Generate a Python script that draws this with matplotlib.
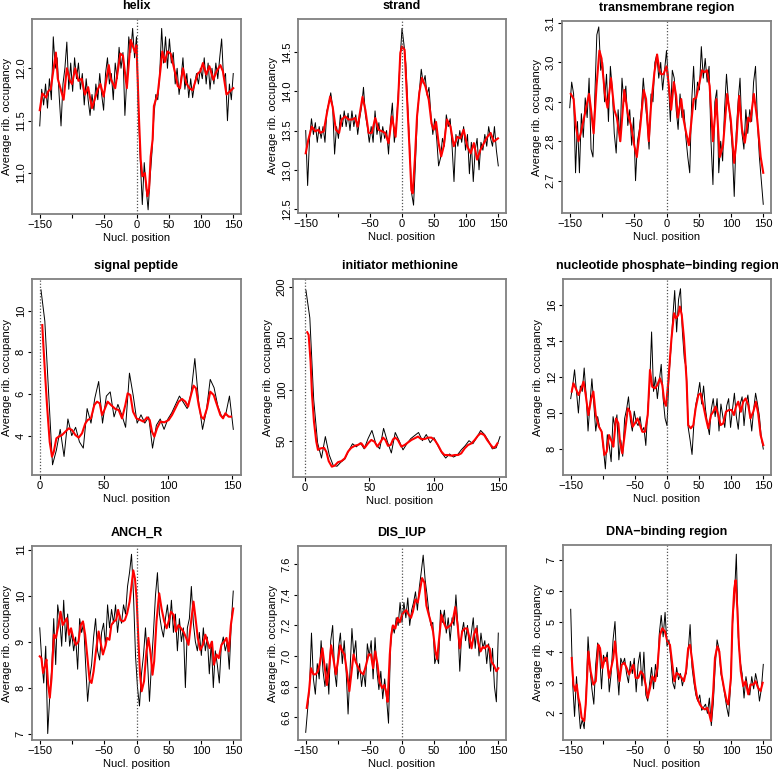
import matplotlib
matplotlib.use("Agg")
import matplotlib.pyplot as plt
import numpy as np

plt.rcParams["font.family"] = ["Liberation Sans", "DejaVu Sans"]

# ---- helix ----
helix_black = [11.45, 11.80, 11.65, 11.85, 11.62, 11.90, 11.70, 12.30, 12.00, 12.10, 11.75, 11.45, 11.85,
               12.00, 12.25, 11.80, 12.05, 11.78, 12.10, 11.90, 12.05, 11.80, 11.95, 11.65, 11.90, 11.70,
               11.55, 11.75, 11.60, 11.85, 11.70, 11.95, 11.75, 11.60, 11.95, 12.10, 11.85, 11.95, 11.70,
               12.05, 11.90, 12.20, 12.00, 12.15, 11.55, 11.90, 12.30, 12.15, 12.38, 12.10, 12.30, 11.60,
               11.10, 10.70, 11.10, 10.85, 10.65, 10.95, 11.20, 11.55, 11.75, 11.70, 11.95, 12.38, 12.05,
               12.30, 12.00, 12.28, 12.05, 12.15, 11.85, 12.00, 11.75, 11.90, 12.10, 11.80, 11.95, 11.72,
               11.90, 11.72, 11.85, 11.95, 11.85, 12.00, 11.90, 12.10, 11.85, 12.05, 11.80, 12.00, 11.85,
               12.05, 11.90, 12.10, 12.28, 11.90, 11.95, 11.50, 11.85, 11.70, 11.95]
helix_red_x = [-150, -146, -140, -137, -133, -125, -122, -113, -108, -103, -100, -95, -90, -85, -80, -75,
               -69, -65, -60, -56, -51, -43, -40, -33, -25, -21, -15, -9, -5, -2, 0, 4, 6.5, 9, 13, 17,
               19.5, 22, 25, 27, 33, 37, 40, 44, 48, 53, 59, 64, 67.5, 72, 77, 82, 87, 95, 99, 103, 108,
               113, 119, 124, 130, 134, 139.5, 145, 150]
helix_red_y = [11.60, 11.76, 11.72, 11.78, 11.80, 12.15, 11.90, 11.70, 12.00, 11.88, 11.85, 12.00, 11.88,
               11.90, 11.75, 11.82, 11.62, 11.70, 11.80, 11.85, 11.73, 12.03, 11.90, 11.81, 12.14, 12.12,
               11.81, 12.27, 12.20, 12.15, 12.22, 11.50, 11.13, 10.97, 11.00, 10.78, 10.85, 11.16, 11.32,
               11.64, 11.76, 11.98, 12.16, 12.06, 12.16, 12.14, 11.98, 11.83, 11.81, 12.00, 11.86, 11.81,
               11.79, 11.95, 11.97, 12.05, 11.94, 12.02, 11.89, 11.97, 12.03, 11.97, 11.75, 11.78, 11.81]

# ---- strand ----
strand_black = [13.50, 12.80, 13.40, 13.65, 13.45, 13.60, 13.35, 13.55, 13.40, 13.55, 13.35, 13.75, 13.85,
                13.98, 13.80, 13.20, 13.55, 13.40, 13.70, 13.55, 13.75, 13.55, 13.72, 13.50, 13.75, 13.55,
                13.70, 13.45, 13.65, 13.80, 14.05, 13.70, 13.55, 13.35, 13.55, 13.35, 13.75, 13.45, 13.60,
                13.35, 13.55, 13.40, 13.50, 13.20, 13.60, 13.85, 13.35, 13.55, 13.95, 14.40, 14.80, 14.60,
                14.35, 13.80, 13.30, 12.70, 12.55, 13.10, 13.70, 14.00, 14.28, 14.10, 14.20, 13.95, 14.05,
                13.70, 13.45, 13.65, 13.40, 13.05, 13.15, 13.40, 13.30, 13.70, 13.55, 13.65, 13.30, 12.85,
                13.45, 13.30, 13.50, 13.35, 13.55, 13.25, 13.45, 12.95, 13.35, 12.85, 13.25, 13.40, 13.00,
                13.35, 13.25, 13.45, 13.30, 13.55, 13.40, 13.30, 13.55, 13.25, 13.05]
strand_red_x = [-150, -146, -140.6, -135, -130, -127.6, -122, -117, -112, -108, -103, -98, -94, -88.5, -83,
                -78, -73, -69, -61.5, -57, -52, -47, -41.7, -36.5, -31, -26, -21, -15.6, -10, -6, -2.6, 0,
                4, 8, 11.5, 14.6, 16.7, 20, 23.4, 27, 31, 36.5, 41.7, 46, 49.5, 53, 57, 61, 65, 70, 75.5,
                80.7, 86, 91, 96, 101.6, 107, 112, 117, 122, 127.6, 133, 138, 143, 149.5]
strand_red_y = [13.21, 13.38, 13.55, 13.49, 13.51, 13.47, 13.49, 13.72, 13.93, 13.80, 13.51, 13.47, 13.64,
                13.68, 13.64, 13.64, 13.66, 13.55, 13.93, 13.76, 13.47, 13.47, 13.66, 13.51, 13.49, 13.47,
                13.34, 13.68, 13.42, 13.89, 14.49, 14.57, 14.53, 13.89, 13.30, 12.74, 12.70, 13.13, 13.68,
                13.98, 14.17, 14.06, 13.89, 13.59, 13.51, 13.61, 13.34, 13.17, 13.30, 13.64, 13.55, 13.30,
                13.42, 13.40, 13.51, 13.30, 13.21, 13.34, 13.13, 13.25, 13.34, 13.42, 13.47, 13.36, 13.40]

# ---- transmembrane region ----
tm_black = [2.885, 2.95, 2.92, 2.72, 2.85, 2.72, 2.87, 2.81, 2.91, 2.86, 2.96, 2.78, 2.76, 2.92, 3.07, 3.09,
            2.98, 3.00, 2.90, 2.97, 2.85, 2.99, 2.93, 2.82, 2.77, 2.88, 2.80, 2.96, 2.90, 2.94, 2.84, 2.88,
            2.79, 2.86, 2.70, 2.80, 2.83, 2.88, 2.96, 2.90, 2.85, 2.78, 2.92, 2.90, 3.00, 3.02, 2.96, 3.00,
            2.93, 2.98, 3.03, 2.95, 2.85, 2.98, 2.96, 2.88, 2.83, 2.92, 2.86, 2.88, 2.81, 2.76, 2.72, 2.90,
            2.99, 2.88, 2.95, 2.93, 3.04, 2.96, 3.01, 2.95, 2.99, 2.80, 2.69, 2.90, 2.93, 2.72, 2.80, 2.75,
            2.88, 2.97, 2.90, 2.85, 2.78, 2.66, 2.82, 2.90, 2.96, 2.82, 2.78, 2.88, 2.82, 2.88, 2.85, 2.95,
            2.99, 2.85, 2.76, 2.70, 2.64]
tm_red_x = [-148.4, -144, -140.7, -136.5, -133, -127.7, -124, -120, -117, -113, -108.5, -104, -100.7, -95.5,
            -91.4, -86, -81, -77, -71.6, -65.4, -60, -55, -50, -46, -40.5, -35.3, -31.7, -27.5, -24, -18.7,
            -14.6, -11, -8.3, -4.7, 0, 3, 7.2, 11.4, 15, 17.5, 22.8, 26.4, 30.6, 34.7, 38.4, 42, 46, 51.3,
            55, 59, 62.7, 66.9, 72, 77.3, 82.5, 87.7, 94, 99.6, 104.8, 108.4, 112.6, 117, 121.4, 126.6, 130,
            135.4, 140.6, 146, 150]
tm_red_y = [2.92, 2.907, 2.84, 2.80, 2.82, 2.86, 2.89, 2.92, 2.88, 2.82, 2.94, 3.03, 3.01, 2.92, 2.885,
            2.96, 2.88, 2.86, 2.80, 2.93, 2.87, 2.84, 2.79, 2.76, 2.84, 2.93, 2.907, 2.80, 2.89, 2.975,
            3.02, 2.98, 2.97, 2.97, 2.99, 2.95, 2.88, 2.95, 2.915, 2.86, 2.907, 2.856, 2.82, 2.79, 2.847,
            2.907, 2.91, 2.95, 2.98, 2.975, 2.98, 2.94, 2.80, 2.907, 2.76, 2.79, 2.92, 2.856, 2.745, 2.80,
            2.915, 2.83, 2.796, 2.86, 2.85, 2.92, 2.856, 2.76, 2.72]

# ---- signal peptide ----
sp_black = [11.0, 9.5, 6.0, 2.6, 3.3, 4.3, 3.0, 4.8, 4.0, 4.4, 3.7, 3.4, 5.3, 4.6, 5.8, 6.6, 4.6, 5.9, 6.1,
            4.9, 5.5, 5.0, 4.4, 7.0, 5.9, 4.6, 5.0, 4.6, 4.9, 3.4, 4.5, 4.8, 4.3, 4.8, 5.1, 5.5, 5.9, 5.6,
            5.3, 6.0, 7.7, 5.6, 4.3, 5.2, 6.7, 6.3, 5.4, 4.9, 5.0, 5.9, 4.3]
sp_red_x = [2, 3, 4.4, 5.7, 7.8, 9.6, 11, 13, 14.8, 17.4, 20, 22.6, 25.2, 27.8, 30.4, 33, 35.6, 37.4, 40,
            42.6, 44.7, 46.8, 48.6, 49.9, 53, 55.6, 59, 61.6, 64.2, 66.8, 68.6, 70.7, 72.8, 75.4, 78.5, 81,
            83.7, 85.8, 87.6, 89.4, 91.5, 94.1, 97.2, 100.6, 103.2, 105.8, 108.4, 111, 113.6, 115.7, 118,
            120, 121.9, 124, 126, 127.9, 130.5, 133, 135.7, 138.3, 140.9, 143, 144.8, 147.4, 149.2]
sp_red_y = [9.31, 8.2, 6.75, 5.47, 3.7, 2.99, 3.23, 3.87, 3.95, 4.03, 4.19, 4.35, 4.27, 4.03, 3.9, 4.11,
            4.59, 4.75, 4.83, 5.47, 5.63, 5.55, 4.99, 5.15, 5.63, 5.47, 5.28, 5.23, 4.83, 5.47, 6.03, 5.95,
            5.15, 4.83, 4.75, 4.67, 4.88, 4.75, 4.19, 3.95, 4.35, 4.67, 4.64, 4.75, 4.99, 5.31, 5.63, 5.76,
            5.63, 5.39, 5.95, 6.4, 6.27, 5.47, 4.91, 4.8, 5.31, 6.11, 5.95, 5.47, 4.99, 4.83, 5.07, 4.91, 4.91]

# ---- initiator methionine ----
im_black = [197, 170, 90, 48, 33, 54, 36, 26, 25, 29, 32, 40, 47, 44, 48, 42, 52, 60, 47, 42, 62, 49, 38,
            58, 50, 41, 47, 52, 55, 58, 50, 56, 48, 53, 45, 38, 33, 37, 34, 36, 41, 45, 50, 47, 53, 60, 56,
            50, 42, 43, 54]
im_red_x = [2, 3.1, 4.6, 5.7, 7.2, 9, 10.3, 12.4, 15, 16.8, 18.6, 21, 23.2, 25.8, 28.4, 31, 33.5, 36, 38.7,
            41, 43.8, 46.4, 49, 51.5, 54, 56.2, 58.8, 60.6, 62.4, 64.4, 66.5, 68.3, 70, 72, 74.7, 77.3, 80,
            82.5, 85, 87.6, 90, 92.8, 95.4, 98, 100.5, 103, 105.7, 108, 110.8, 113.4, 116, 118.6, 121,
            123.7, 126.3, 129, 131.4, 134, 136, 138.7, 141, 143.8, 145.6, 147.4, 149]
im_red_y = [156, 153.4, 127, 94.7, 68.6, 49, 41, 42.5, 43, 39, 30, 24.6, 25.6, 29, 30, 32.7, 39.3, 43, 45,
            45.8, 47.4, 43, 47.4, 50.7, 49, 44.2, 49, 53, 50.7, 45, 45.8, 51.3, 53, 50.7, 44.2, 45.8, 48.4,
            50.7, 52.3, 54, 51.6, 51.6, 53, 53, 50.7, 45.8, 39.3, 36, 36, 35.3, 36, 36, 37.6, 42.5, 45.8,
            47.4, 50.7, 55, 57.2, 55.6, 50.7, 45.8, 43, 44.2, 47.4]

# ---- nucleotide phosphate-binding region ----
npb_black = [10.8, 11.5, 12.4, 11.2, 10.0, 11.5, 11.2, 12.5, 11.0, 9.0, 10.5, 11.9, 10.5, 9.0, 9.8, 9.2, 9.0,
             8.0, 6.9, 8.8, 8.2, 7.3, 9.8, 9.2, 9.9, 7.4, 8.5, 7.6, 9.7, 10.2, 10.9, 9.6, 9.0, 10.1, 9.5,
             9.3, 9.8, 9.0, 9.2, 8.2, 10.2, 11.5, 14.5, 11.2, 12.0, 10.8, 11.8, 12.7, 10.8, 9.7, 9.3, 12.0,
             13.5, 15.3, 16.8, 14.5, 16.3, 16.9, 14.5, 13.0, 12.5, 9.2, 8.5, 7.7, 9.5, 10.5, 11.0, 11.7, 10.5,
             11.5, 10.2, 9.4, 8.8, 10.2, 10.8, 9.8, 10.8, 9.0, 10.5, 9.8, 9.2, 10.4, 10.8, 9.2, 10.2, 11.1,
             9.8, 9.1, 10.5, 10.9, 9.3, 10.5, 11.0, 10.0, 9.0, 10.2, 11.1, 10.5, 9.8, 8.6, 8.0]
npb_red_x = [-148.4, -145.8, -142, -138, -134.4, -130, -126.6, -122.5, -118, -114.7, -111, -106, -101.7,
             -97.6, -94, -90.3, -86, -83.6, -79.4, -75.8, -73.2, -69.6, -65.4, -61, -57.6, -53.5, -50, -46,
             -42, -38.4, -34.3, -30, -26.5, -23, -18.7, -15, -11, -7.3, -4.2, -1.5, 2, 4.6, 7, 11, 14,
             17.6, 20, 23, 26.4, 30.6, 33, 37, 41, 44.6, 48.8, 52.4, 56.5, 60.7, 64.3, 68.5, 72, 75.7, 79.9,
             83.5, 87.7, 91.8, 96.5, 100.6, 104.3, 107.4, 111, 115, 118.8, 122.4, 126.6, 130, 134.4, 138.5,
             142, 145.8, 150]
npb_red_y = [11.19, 11.65, 11.37, 11.0, 11.28, 11.74, 11.0, 9.89, 10.81, 11.19, 9.89, 9.24, 8.96, 7.67,
             7.85, 8.78, 8.41, 8.13, 9.7, 9.43, 8.41, 7.76, 8.96, 10.26, 10.07, 9.24, 9.43, 9.7, 9.33, 8.96,
             8.96, 9.89, 12.39, 11.46, 11.37, 11.56, 11.93, 11.56, 10.63, 10.4, 11.74, 13.04, 14.15, 15.54,
             15.26, 15.44, 15.91, 15.44, 14.15, 11.74, 9.33, 9.15, 9.33, 10.26, 11.0, 11.09, 10.44, 9.7,
             9.15, 9.89, 10.07, 10.35, 9.89, 9.33, 9.43, 10.07, 10.17, 10.17, 9.89, 10.35, 10.63, 10.07,
             10.63, 10.81, 10.44, 9.7, 10.07, 10.63, 9.98, 8.78, 8.22]

# ---- ANCH_R ----
anch_black = [9.3, 8.6, 8.1, 8.9, 7.0, 7.8, 8.4, 9.5, 8.5, 9.8, 9.5, 8.9, 9.9, 9.0, 9.6, 8.9, 9.2, 8.8, 9.1,
              8.4, 9.5, 9.2, 9.4, 8.5, 7.7, 8.2, 8.5, 9.1, 9.5, 8.8, 8.6, 9.2, 9.4, 8.9, 9.8, 9.3, 9.7, 9.4,
              9.8, 9.2, 9.6, 9.4, 9.8, 9.6, 10.2, 10.5, 10.9, 10.0, 8.7, 8.0, 7.6, 8.3, 8.7, 9.3, 8.6, 7.7,
              8.5, 9.2, 10.0, 10.5, 9.6, 9.3, 9.1, 9.5, 9.8, 9.3, 9.9, 9.2, 9.6, 8.8, 9.5, 9.0, 9.3, 8.0,
              9.3, 9.5, 10.2, 9.4, 9.0, 8.8, 9.2, 8.7, 9.3, 8.8, 9.1, 8.3, 9.0, 8.0, 8.8, 8.5, 8.1, 8.9, 9.1,
              8.8, 9.0, 8.4, 9.4, 10.1]
anch_red_x = [-150, -147.4, -144.8, -142, -139.6, -137, -134.4, -131.7, -128, -125, -121, -117.7, -114.5,
              -111, -108, -104.6, -101.5, -98, -94, -90, -86.4, -83, -79.6, -76, -72.8, -69.7, -66.5, -62.9,
              -58.7, -55, -52, -48.3, -45.7, -42, -39, -35, -31.6, -28.5, -24.8, -21, -18, -14.4, -10.7, -7.6,
              -5, -2.4, 0.2, 2.8, 5.5, 8, 11.7, 15.4, 18.5, 22, 24.8, 27.4, 31, 35.2, 38.8, 43, 46.7, 49.8,
              53.4, 57.6, 61, 65, 69, 72.7, 77, 80.6, 84.7, 88.4, 91.5, 95, 98.8, 103, 106.7, 110, 113.4,
              117, 120, 124, 127.5, 131.7, 135.9, 139.5, 143, 146.3, 150]
anch_red_y = [8.68, 8.64, 8.32, 8.46, 8.61, 8.07, 7.78, 8.21, 9.15, 9.08, 9.36, 9.65, 9.36, 9.44, 9.51,
              9.15, 9.29, 9.08, 8.93, 9.0, 9.36, 9.44, 9.15, 8.64, 8.17, 8.1, 8.35, 8.79, 9.22, 8.93, 8.72,
              8.9, 9.08, 9.04, 9.36, 9.44, 9.47, 9.69, 9.47, 9.44, 9.47, 9.62, 9.87, 10.23, 10.55, 10.37,
              9.94, 9.08, 8.28, 7.92, 8.14, 8.79, 9.08, 8.72, 8.28, 8.57, 9.44, 10.05, 9.72, 9.44, 9.29,
              9.44, 9.65, 9.58, 9.22, 9.36, 9.29, 9.22, 9.08, 8.93, 9.44, 9.87, 9.51, 9.08, 8.82, 8.93, 9.15,
              9.0, 8.86, 9.0, 8.5, 8.72, 8.64, 8.93, 9.0, 9.08, 8.79, 9.36, 9.72]

# ---- DIS_IUP ----
dis_black = [6.50, 6.65, 6.80, 7.15, 6.85, 6.75, 6.95, 6.85, 7.10, 6.90, 6.80, 6.95, 6.75, 7.10, 7.20,
             6.90, 6.80, 7.05, 7.15, 6.95, 7.10, 6.90, 6.62, 6.90, 7.18, 7.00, 7.10, 6.85, 6.95, 6.80, 6.90,
             6.80, 7.08, 7.00, 7.10, 6.85, 7.12, 6.90, 6.78, 6.90, 6.72, 6.85, 6.72, 6.56, 7.05, 7.20, 7.15,
             7.25, 7.20, 7.35, 7.22, 7.35, 7.25, 7.38, 7.20, 7.30, 7.35, 7.42, 7.30, 7.45, 7.55, 7.66, 7.50,
             7.40, 7.28, 7.20, 7.22, 6.95, 7.00, 6.95, 7.30, 7.22, 7.30, 7.15, 7.25, 7.10, 7.25, 7.20, 7.40,
             7.20, 6.90, 7.15, 7.22, 7.10, 7.20, 7.05, 7.15, 7.25, 7.05, 7.20, 7.00, 7.15, 7.05, 7.10, 6.95,
             7.08, 6.90, 7.05, 6.80, 6.70, 7.15]
dis_red_x = [-148.4, -144.8, -141.7, -138, -134.4, -131, -127.6, -124, -120.8, -117, -113.5, -110.4, -106.8,
             -103, -100, -96.4, -92.7, -89.6, -86, -82, -79, -75.5, -72, -67.7, -63.5, -60, -56, -52, -48.4,
             -45, -41.7, -38, -35, -31, -27.6, -24.5, -22.4, -19, -16.7, -14, -10.4, -6.8, -3.6, 0, 3.6,
             6.8, 10.4, 14, 17, 20.8, 24.5, 27.6, 31.3, 35, 38, 41.7, 45, 48.4, 52, 54.7, 58, 61.5, 65,
             68.8, 72, 75.5, 79, 83, 86.7, 90, 93.7, 97.4, 101.6, 105, 108.3, 112, 115.6, 118.7, 122.4, 126,
             129, 132.8, 136.5, 139.6, 143, 147, 150]
dis_red_y = [6.66, 6.77, 6.92, 6.88, 6.88, 6.90, 6.96, 7.05, 6.94, 6.81, 6.92, 7.07, 6.98, 6.88, 6.96,
             7.07, 7.03, 7.01, 6.90, 6.77, 6.88, 7.01, 6.96, 6.92, 6.89, 6.88, 6.94, 7.01, 7.01, 6.92, 7.03,
             6.94, 6.83, 6.79, 6.81, 6.76, 6.70, 7.01, 7.14, 7.20, 7.18, 7.25, 7.22, 7.27, 7.29, 7.30, 7.27,
             7.25, 7.29, 7.37, 7.35, 7.42, 7.51, 7.48, 7.33, 7.27, 7.22, 7.16, 7.03, 6.98, 7.12, 7.27, 7.22,
             7.18, 7.19, 7.20, 7.23, 7.32, 7.20, 7.05, 7.16, 7.18, 7.18, 7.12, 7.05, 7.14, 7.18, 7.09, 7.03,
             7.06, 7.05, 7.07, 7.05, 6.96, 6.94, 6.90, 6.92]

# ---- DNA-binding region ----
dna_black = [5.4, 3.0, 1.9, 3.2, 2.3, 1.5, 1.8, 1.5, 2.6, 4.5, 3.5, 2.8, 2.3, 3.6, 4.3, 4.0, 2.8, 3.9, 3.7,
             4.0, 2.7, 3.3, 4.4, 5.0, 3.5, 2.6, 3.8, 3.6, 3.8, 3.3, 3.0, 3.7, 3.3, 3.8, 2.7, 3.6, 4.0, 2.9,
             4.0, 2.6, 2.4, 3.0, 3.5, 2.8, 3.6, 3.2, 4.6, 5.2, 4.5, 5.3, 4.2, 4.4, 3.8, 3.0, 2.8, 3.5, 3.1,
             3.3, 2.9, 3.2, 3.3, 4.0, 4.9, 3.5, 3.0, 2.6, 2.4, 2.6, 2.1, 2.2, 2.3, 2.0, 2.5, 1.6, 2.3, 3.5,
             4.4, 4.1, 3.3, 3.0, 2.6, 2.2, 1.9, 2.9, 4.9, 5.8, 7.2, 4.5, 3.7, 3.3, 2.5, 3.2, 2.8, 2.6, 3.2,
             2.8, 3.3, 3.0, 2.4, 2.8, 3.6]
dna_red_x = [-148.4, -145.8, -143, -140.7, -138, -135.5, -133, -129, -126.6, -122.5, -118.9, -114.7, -111,
             -107, -104.3, -100.7, -96.5, -94, -90.3, -87, -83.6, -81, -77.4, -74, -70.6, -66.5, -62.8, -59,
             -55, -52.4, -48.8, -44.7, -41, -36.9, -33.2, -30, -26.5, -23, -18.7, -15, -11, -7.3, -3.1, 0.5,
             4.6, 8.3, 11.4, 15, 18.7, 22.8, 26.4, 29.6, 33, 35.8, 39.4, 43.6, 47, 51.3, 55, 59, 62.8, 66,
             68.5, 72, 74.7, 78.4, 81.5, 85, 88.7, 92.9, 95.5, 99.6, 102, 104.8, 106.9, 109.5, 112, 115,
             118.8, 122.4, 126.6, 130, 134.4, 138, 142, 145.8, 149]
dna_red_y = [3.81, 2.94, 2.73, 2.94, 2.51, 2.29, 1.86, 1.75, 2.29, 4.02, 3.37, 2.94, 3.05, 4.24, 4.13, 3.48,
             3.81, 3.81, 3.16, 3.48, 3.81, 4.35, 3.59, 3.05, 3.59, 3.65, 3.48, 3.27, 3.48, 3.59, 3.16, 3.16,
             3.37, 3.27, 2.94, 2.51, 2.83, 3.21, 3.05, 3.48, 4.56, 4.78, 4.67, 4.35, 4.24, 3.59, 3.05, 3.32,
             3.27, 3.16, 3.05, 3.37, 4.13, 4.24, 3.70, 2.94, 2.51, 2.29, 2.18, 2.13, 2.18, 1.97, 1.75, 2.73,
             3.81, 4.19, 4.02, 3.27, 2.83, 2.40, 2.29, 3.16, 5.0, 6.08, 6.35, 5.43, 4.24, 3.37, 2.89, 3.05,
             2.62, 2.94, 2.94, 3.05, 2.83, 2.73, 3.0]

sym_ticks = [-150, -100, -50, 0, 50, 100, 150]
sym_labels = ["\u2212150", "", "\u221250", "0", "50", "100", "150"]
pos_ticks = [0, 50, 100, 150]
pos_labels = ["0", "50", "100", "150"]

W, H = 778, 772
fig = plt.figure(figsize=(W / 100, H / 100), dpi=100)


def panel(box, title, black, bx, rx, ry, ylim, yticks, ylabels, xlim, xticks, xlabels):
    l, t, r, b = box
    ax = fig.add_axes([l / W, 1 - b / H, (r - l) / W, (b - t) / H])
    xb = np.linspace(bx[0], bx[1], len(black))
    ax.plot(xb, black, color="black", lw=0.7)
    ax.plot(rx, ry, color="red", lw=1.5)
    ax.axvline(0, color="#555555", lw=0.9, ls=(0, (1, 1.5)))
    ax.set_xlim(*xlim)
    ax.set_ylim(*ylim)
    ax.set_xticks(xticks)
    ax.set_xticklabels(xlabels)
    ax.set_yticks(yticks)
    ax.set_yticklabels(ylabels, rotation=90, va="center")
    ax.tick_params(length=3, width=0.8, pad=1.5, labelsize=8, color="black")
    for s in ax.spines.values():
        s.set_color("#808080")
        s.set_linewidth(1.3)
    ax.set_title(title, fontsize=9, fontweight="bold", pad=7)
    ax.set_xlabel("Nucl. position", fontsize=8, labelpad=2)
    ax.set_ylabel("Average rib. occupancy", fontsize=8, labelpad=3)
    return ax


sx = (-162, 162)
panel((32, 19, 241, 214), "helix", helix_black, (-150, 150), helix_red_x, helix_red_y,
      (10.61, 12.47), [11.0, 11.5, 12.0], ["11.0", "11.5", "12.0"], sx, sym_ticks, sym_labels)
panel((298, 19, 506, 213), "strand", strand_black, (-150, 150), strand_red_x, strand_red_y,
      (12.45, 14.92), [12.5, 13.0, 13.5, 14.0, 14.5], ["12.5", "13.0", "13.5", "14.0", "14.5"],
      sx, sym_ticks, sym_labels)
panel((562, 21, 771, 213), "transmembrane region", tm_black, (-150, 150), tm_red_x, tm_red_y,
      (2.618, 3.105), [2.7, 2.8, 2.9, 3.0, 3.1], ["2.7", "2.8", "2.9", "3.0", "3.1"],
      sx, sym_ticks, sym_labels)
panel((32, 279, 241, 475), "signal peptide", sp_black, (1, 151), sp_red_x, sp_red_y,
      (2.11, 11.52), [4, 6, 8, 10], ["4", "6", "8", "10"], (-6, 157), pos_ticks, pos_labels)
panel((293, 279, 506, 477), "initiator methionine", im_black, (1, 151), im_red_x, im_red_y,
      (14.5, 208), [50, 100, 150, 200], ["50", "100", "150", "200"], (-9, 155.6), pos_ticks, pos_labels)
panel((563, 279, 771, 475), "nucleotide phosphate\u2212binding region", npb_black, (-150, 150),
      npb_red_x, npb_red_y, (6.56, 17.44), [8, 10, 12, 14, 16], ["8", "10", "12", "14", "16"],
      sx, sym_ticks, sym_labels)
panel((32, 546, 241, 740), "ANCH_R", anch_black, (-150, 150), anch_red_x, anch_red_y,
      (6.86, 11.08), [7, 8, 9, 10, 11], ["7", "8", "9", "10", "11"], sx, sym_ticks, sym_labels)
panel((298, 546, 506, 740), "DIS_IUP", dis_black, (-150, 150), dis_red_x, dis_red_y,
      (6.45, 7.72), [6.6, 6.8, 7.0, 7.2, 7.4, 7.6], ["6.6", "6.8", "7.0", "7.2", "7.4", "7.6"],
      sx, sym_ticks, sym_labels)
panel((563, 545, 771, 740), "DNA\u2212binding region", dna_black, (-150, 150), dna_red_x, dna_red_y,
      (1.13, 7.5), [2, 3, 4, 5, 6, 7], ["2", "3", "4", "5", "6", "7"], sx, sym_ticks, sym_labels)

fig.savefig("out.png", dpi=100)
